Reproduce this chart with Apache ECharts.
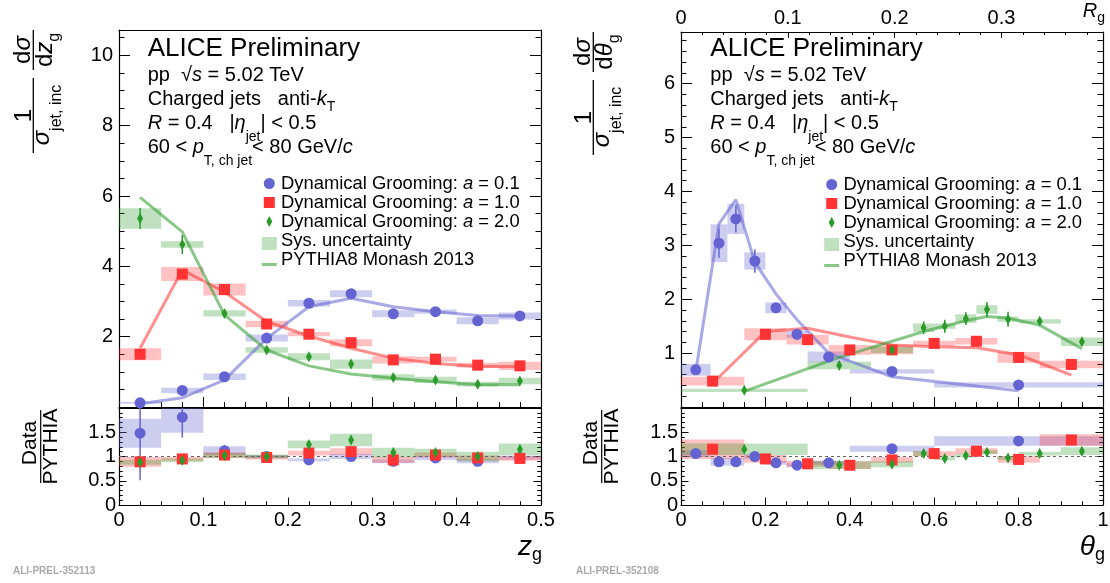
<!DOCTYPE html>
<html>
<head>
<meta charset="utf-8">
<script src="https://cdn.jsdelivr.net/npm/echarts@6/dist/echarts.min.js"></script>
<style>
  html, body { margin: 0; padding: 0; background: #fff; }
  #chart { width: 1110px; height: 583px; }
</style>
</head>
<body>
<div id="chart"></div>
<script>
// ---- z_g panel (left) ----
const zgEdges = [0, 0.05, 0.1, 0.15, 0.2, 0.25, 0.3, 0.35, 0.4, 0.45, 0.5];

const zgA01 = [0.12, 0.47, 0.86, 1.96, 2.95, 3.22, 2.65, 2.71, 2.45, 2.59];
const zgA01Sys = [0.03, 0.08, 0.09, 0.1, 0.09, 0.1, 0.1, 0.06, 0.1, 0.1];
const zgA01Stat = [0.05, 0.05, 0.06, 0.08, 0.12, 0.1, 0.08, 0.1, 0.08, 0.1];
const zgA10 = [1.5, 3.78, 3.34, 2.36, 2.07, 1.83, 1.34, 1.36, 1.19, 1.17];
const zgA10Sys = [0.17, 0.2, 0.17, 0.09, 0.06, 0.1, 0.1, 0.07, 0.07, 0.12];
const zgA10Stat = [0.1, 0.12, 0.1, 0.06, 0.05, 0.05, 0.05, 0.05, 0.05, 0.05];
const zgA20 = [5.36, 4.62, 2.66, 1.62, 1.43, 1.22, 0.84, 0.77, 0.65, 0.74];
const zgA20Sys = [0.29, 0.09, 0.09, 0.08, 0.1, 0.13, 0.09, 0.09, 0.07, 0.09];
const zgA20Stat = [0.3, 0.27, 0.1, 0.07, 0.07, 0.07, 0.06, 0.06, 0.06, 0.06];

const zgPy01 = [0.09, 0.26, 0.77, 1.95, 2.85, 3.09, 2.85, 2.71, 2.6, 2.59];
const zgPy10 = [1.67, 3.9, 3.27, 2.43, 2.02, 1.67, 1.39, 1.24, 1.15, 1.15];
const zgPy20 = [5.96, 4.98, 2.62, 1.62, 1.17, 0.94, 0.82, 0.72, 0.63, 0.63];

const zgR01 = [1.48, 1.81, 1.12, 1.0, 0.93, 1.0, 0.9, 0.97, 0.9, 0.98];
const zgR01Sys = [0.3, 0.32, 0.09, 0.03, 0.03, 0.05, 0.04, 0.04, 0.04, 0.04];
const zgR01Stat = [0.97, 0.42, 0.12, 0.05, 0.05, 0.05, 0.04, 0.05, 0.04, 0.05];
const zgR10 = [0.89, 0.95, 1.03, 0.98, 1.07, 1.1, 0.93, 1.03, 0.97, 0.96];
const zgR10Sys = [0.1, 0.04, 0.06, 0.04, 0.05, 0.07, 0.06, 0.05, 0.05, 0.05];
const zgR10Stat = [0.05, 0.06, 0.05, 0.04, 0.04, 0.04, 0.04, 0.04, 0.04, 0.04];
const zgR20 = [0.88, 0.92, 1.02, 1.0, 1.25, 1.34, 1.08, 1.08, 1.0, 1.15];
const zgR20Sys = [0.05, 0.04, 0.05, 0.04, 0.08, 0.13, 0.1, 0.08, 0.1, 0.12];
const zgR20Stat = [0.05, 0.05, 0.05, 0.05, 0.07, 0.07, 0.07, 0.07, 0.07, 0.07];

// ---- theta_g panel (right) ----
const thEdges01 = [0, 0.07, 0.11, 0.15, 0.2, 0.25, 0.3, 0.4, 0.6, 1.0];
const thEdges10 = [0, 0.15, 0.25, 0.35, 0.45, 0.55, 0.65, 0.75, 0.85, 1.0];
const thEdges20 = [0, 0.3, 0.45, 0.55, 0.6, 0.65, 0.7, 0.75, 0.8, 0.9, 1.0];

const thA01 = [0.69, 3.04, 3.49, 2.71, 1.84, 1.35, 0.93, 0.66, 0.41];
const thA01Sys = [0.11, 0.35, 0.28, 0.16, 0.1, 0.07, 0.1, 0.04, 0.05];
const thA01Stat = [0.05, 0.27, 0.25, 0.22, 0.08, 0.1, 0.06, 0.04, 0.03];
const thA10 = [0.48, 1.35, 1.25, 1.06, 1.06, 1.18, 1.22, 0.92, 0.79];
const thA10Sys = [0.08, 0.11, 0.09, 0.09, 0.08, 0.05, 0.06, 0.1, 0.07];
const thA10Stat = [0.04, 0.05, 0.05, 0.04, 0.04, 0.04, 0.04, 0.04, 0.04];
const thA20 = [0.31, 0.77, 1.06, 1.47, 1.5, 1.64, 1.81, 1.63, 1.59, 1.21];
const thA20Sys = [0.03, 0.07, 0.06, 0.08, 0.05, 0.08, 0.08, 0.05, 0.04, 0.08];
const thA20Stat = [0.04, 0.07, 0.08, 0.12, 0.12, 0.12, 0.14, 0.14, 0.07, 0.08];

const thPy01 = [0.66, 3.4, 3.85, 2.69, 2.1, 1.62, 1.0, 0.56, 0.3];
const thPy10 = [0.44, 1.4, 1.46, 1.3, 1.15, 1.12, 1.1, 0.97, 0.59];
const thPy20 = [0.29, 0.92, 1.22, 1.4, 1.5, 1.6, 1.68, 1.65, 1.52, 1.08];

const thR01 = [1.06, 0.89, 0.89, 1.0, 0.87, 0.82, 0.87, 1.16, 1.32];
const thR01Sys = [0.07, 0.08, 0.08, 0.05, 0.04, 0.04, 0.04, 0.06, 0.1];
const thR01Stat = [0.04, 0.08, 0.07, 0.08, 0.04, 0.06, 0.05, 0.04, 0.04];
const thR10 = [1.15, 0.95, 0.85, 0.82, 0.93, 1.06, 1.11, 0.94, 1.34];
const thR10Sys = [0.2, 0.08, 0.06, 0.08, 0.06, 0.05, 0.06, 0.07, 0.12];
const thR10Stat = [0.04, 0.04, 0.04, 0.04, 0.04, 0.04, 0.04, 0.04, 0.05];
const thR20 = [1.15, 0.82, 0.84, 1.06, 0.96, 1.02, 1.09, 0.97, 1.06, 1.11];
const thR20Sys = [0.12, 0.08, 0.06, 0.05, 0.04, 0.04, 0.04, 0.04, 0.04, 0.08];
const thR20Stat = [0.05, 0.06, 0.07, 0.09, 0.08, 0.08, 0.08, 0.08, 0.05, 0.06];

const ratioRef = 1;
const legendLabels = ['Dynamical Grooming: {i|a} = 0.1', 'Dynamical Grooming: {i|a} = 1.0',
  'Dynamical Grooming: {i|a} = 2.0', 'Sys. uncertainty', 'PYTHIA8 Monash 2013'];

// ---- styles ----
const FONT = '"Liberation Sans", Arial, Helvetica, sans-serif';
const ST = {
  a01: { color: '#6363d1', box: 'rgba(99,99,209,0.32)', line: 'rgba(99,99,209,0.55)', symbol: 'circle', size: 11 },
  a10: { color: '#ff3333', box: 'rgba(255,51,51,0.3)', line: 'rgba(255,51,51,0.55)', symbol: 'rect', size: 11 },
  a20: { color: '#2a9a2a', box: 'rgba(42,154,42,0.3)', line: 'rgba(42,154,42,0.55)', symbol: 'diamond', size: [6, 11] }
};

const mids = e => e.slice(0, -1).map((v, i) => (v + e[i + 1]) / 2);
const pts = (xs, ys) => ys.map((y, i) => [xs[i], y]);
const binBoxes = (e, v, h) => v.map((y, i) => [e[i], e[i + 1], y - h[i], y + h[i]]);
const bars = (xs, v, h) => v.map((y, i) => [xs[i], y - h[i], y + h[i]]);

function boxSeries(xi, yi, data, fill) {
  return {
    type: 'custom', xAxisIndex: xi, yAxisIndex: yi, data, silent: true, z: 1,
    encode: { x: [0, 1], y: [2, 3] },
    renderItem(params, api) {
      const a = api.coord([api.value(0), api.value(3)]);
      const b = api.coord([api.value(1), api.value(2)]);
      const cs = params.coordSys;
      const shape = echarts.graphic.clipRectByRect(
        { x: a[0], y: a[1], width: b[0] - a[0], height: b[1] - a[1] },
        { x: cs.x, y: cs.y, width: cs.width, height: cs.height });
      return shape && { type: 'rect', shape, style: { fill } };
    }
  };
}

function errSeries(xi, yi, data, stroke) {
  return {
    type: 'custom', xAxisIndex: xi, yAxisIndex: yi, data, silent: true, z: 3,
    encode: { x: 0, y: [1, 2] },
    renderItem(params, api) {
      const a = api.coord([api.value(0), api.value(1)]);
      const b = api.coord([api.value(0), api.value(2)]);
      const cs = params.coordSys;
      const clamp = v => Math.min(Math.max(v, cs.y), cs.y + cs.height);
      return { type: 'line', shape: { x1: a[0], y1: clamp(a[1]), x2: a[0], y2: clamp(b[1]) },
        style: { stroke, lineWidth: 1.5 } };
    }
  };
}

function lineSeries(xi, yi, data, color, z, dashed) {
  return {
    type: 'line', xAxisIndex: xi, yAxisIndex: yi, data, symbol: 'none', silent: true, z: z,
    lineStyle: dashed ? { color: '#666', width: 1, type: [3, 3] } : { color, width: 3 }
  };
}

function markSeries(xi, yi, data, st) {
  return {
    type: 'scatter', xAxisIndex: xi, yAxisIndex: yi, data, silent: true, z: 4,
    symbol: st.symbol, symbolSize: st.size, itemStyle: { color: st.color, opacity: 1 }
  };
}

function panel(xi, yi, sets, withModel) {
  const s = [];
  sets.forEach(d => s.push(boxSeries(xi, yi, binBoxes(d.edges, d.vals, d.sys), d.st.box)));
  if (withModel) sets.forEach(d => s.push(lineSeries(xi, yi, pts(mids(d.edges), d.model), d.st.line, 2)));
  sets.forEach(d => s.push(errSeries(xi, yi, bars(mids(d.edges), d.vals, d.stat), d.st.color)));
  sets.forEach(d => s.push(markSeries(xi, yi, pts(mids(d.edges), d.vals), d.st)));
  return s;
}

const fmt = (step, lo, hi) => v => {
  const k = v / step;
  if (Math.abs(k - Math.round(k)) > 1e-6 || v < lo || v > hi) return '';
  return String(Math.round(v * 1000) / 1000);
};

function axis(gridIndex, position, min, max, interval, minorSplit, tickLen, label) {
  return {
    type: 'value', gridIndex, position, min, max, interval,
    axisLine: { show: true, onZero: false, lineStyle: { color: '#000', width: 1.2 } },
    splitLine: { show: false },
    axisTick: { show: tickLen > 0, inside: true, length: tickLen, lineStyle: { color: '#000', width: 1 } },
    minorTick: { show: tickLen > 0, splitNumber: minorSplit, length: tickLen / 2, lineStyle: { color: '#000', width: 1 } },
    axisLabel: label ? Object.assign({ show: true, color: '#000', fontFamily: FONT, fontSize: 20 }, label) : { show: false }
  };
}

// ---- text helpers ----
const f = (size, extra) => Object.assign({ fontSize: size, fontFamily: FONT, fill: '#000' }, extra || {});
function sub(mainFs, mainLH, subFs, d) {
  const p = mainLH / 2 + 0.3465 * mainFs + d - 0.8465 * subFs;
  return { fontSize: subFs, fontFamily: FONT, fill: '#000', verticalAlign: 'top', lineHeight: 1, padding: [p, 0, 0, 0] };
}
function txt(x, y, text, fs, lh, rich, align, extra) {
  return {
    type: 'text', x, y, z: 10, silent: true,
    style: Object.assign({ text, fontSize: fs, fontFamily: FONT, fill: '#000', lineHeight: lh,
      align: align || 'left', verticalAlign: 'middle', rich: rich || {} }, extra || {})
  };
}

const headRich = { i: f(20, { fontStyle: 'italic', lineHeight: 24 }), sT: sub(20, 24, 14, 6), sJ: sub(20, 24, 14, 11.5) };
function header(x) {
  return [
    txt(x, 49, 'ALICE Preliminary', 26, 30),
    txt(x, 75.5, 'pp  \u221a{i|s} = 5.02 TeV', 20, 24, headRich),
    txt(x, 99.5, 'Charged jets   anti-{i|k}{sT|T}', 20, 24, headRich),
    txt(x, 123.5, '{i|R} = 0.4   |{i|\u03b7}{sJ|jet}| < 0.5', 20, 24, headRich),
    txt(x, 147.8, '60 < {i|p}{sJ|T, ch jet}< 80 GeV/{i|c}', 20, 24, headRich)
  ];
}

const legRich = { i: f(18.4, { fontStyle: 'italic', lineHeight: 22 }) };
function legend(mx, y0) {
  const dy = 19, g = [];
  g.push({ type: 'circle', z: 10, silent: true, shape: { cx: mx, cy: y0, r: 5.5 }, style: { fill: ST.a01.color } });
  g.push({ type: 'rect', z: 10, silent: true, shape: { x: mx - 5.5, y: y0 + dy - 5.5, width: 11, height: 11 }, style: { fill: ST.a10.color } });
  g.push({ type: 'polygon', z: 10, silent: true, shape: { points: [[mx, y0 + 2 * dy - 5.5], [mx + 3, y0 + 2 * dy], [mx, y0 + 2 * dy + 5.5], [mx - 3, y0 + 2 * dy]] }, style: { fill: ST.a20.color } });
  g.push({ type: 'rect', z: 10, silent: true, shape: { x: mx - 7.5, y: y0 + 3 * dy - 3.5, width: 15, height: 13 }, style: { fill: ST.a20.box } });
  g.push({ type: 'line', z: 10, silent: true, shape: { x1: mx - 7.5, y1: y0 + 4 * dy + 5, x2: mx + 7.5, y2: y0 + 4 * dy + 5 }, style: { stroke: ST.a20.line, lineWidth: 3 } });
  legendLabels.forEach((t, i) => g.push(txt(mx + 11.7, y0 + i * dy, t, 18.4, 22, legRich)));
  return g;
}

function yTitle(x, y, den2) {
  const R = { g: f(24, { fontStyle: 'italic', lineHeight: 28 }), s: sub(24, 28, 16, 12), s2: sub(24, 28, 16, 7) };
  const ln = (a, b) => ({ type: 'line', shape: { x1: a, y1: 0, x2: b, y2: 0 }, style: { stroke: '#000', lineWidth: 1.3 } });
  return {
    type: 'group', x, y, rotation: Math.PI / 2, silent: true,
    children: [
      ln(0, 75), txt(37.5, -9, '1', 24, 28, null, 'center'),
      txt(38, 9, '{g|\u03c3}{s|jet, inc}', 24, 28, R, 'center'),
      ln(83, 123), txt(103, -10, 'd{g|\u03c3}', 24, 28, R, 'center'),
      txt(103, 12, den2, 24, 28, R, 'center')
    ]
  };
}
function ratioTitle(x, y) {
  return {
    type: 'group', x, y, rotation: Math.PI / 2, silent: true,
    children: [
      { type: 'line', shape: { x1: 0, y1: 0, x2: 73, y2: 0 }, style: { stroke: '#000', lineWidth: 1.2 } },
      txt(40, -10.5, 'Data', 21, 24, null, 'center'),
      txt(36.5, 11, 'PYTHIA', 21, 24, null, 'center')
    ]
  };
}

const axRich = { zi: f(28, { fontStyle: 'italic', lineHeight: 32 }), zs: sub(28, 32, 18, 5) };
const rgRich = { ri: f(20, { fontStyle: 'italic', lineHeight: 24 }), rs: sub(20, 24, 14, 5) };

// ---- series ----
const leftMain = [
  { edges: zgEdges, vals: zgA01, sys: zgA01Sys, stat: zgA01Stat, model: zgPy01, st: ST.a01 },
  { edges: zgEdges, vals: zgA10, sys: zgA10Sys, stat: zgA10Stat, model: zgPy10, st: ST.a10 },
  { edges: zgEdges, vals: zgA20, sys: zgA20Sys, stat: zgA20Stat, model: zgPy20, st: ST.a20 }
];
const leftRatio = [
  { edges: zgEdges, vals: zgR01, sys: zgR01Sys, stat: zgR01Stat, st: ST.a01 },
  { edges: zgEdges, vals: zgR10, sys: zgR10Sys, stat: zgR10Stat, st: ST.a10 },
  { edges: zgEdges, vals: zgR20, sys: zgR20Sys, stat: zgR20Stat, st: ST.a20 }
];
const rightMain = [
  { edges: thEdges01, vals: thA01, sys: thA01Sys, stat: thA01Stat, model: thPy01, st: ST.a01 },
  { edges: thEdges10, vals: thA10, sys: thA10Sys, stat: thA10Stat, model: thPy10, st: ST.a10 },
  { edges: thEdges20, vals: thA20, sys: thA20Sys, stat: thA20Stat, model: thPy20, st: ST.a20 }
];
const rightRatio = [
  { edges: thEdges01, vals: thR01, sys: thR01Sys, stat: thR01Stat, st: ST.a01 },
  { edges: thEdges10, vals: thR10, sys: thR10Sys, stat: thR10Stat, st: ST.a10 },
  { edges: thEdges20, vals: thR20, sys: thR20Sys, stat: thR20Stat, st: ST.a20 }
];

const series = [].concat(
  panel(0, 0, leftMain, true),
  [lineSeries(2, 2, [[0, ratioRef], [0.5, ratioRef]], null, 1, true)],
  panel(2, 2, leftRatio, false),
  panel(4, 4, rightMain, true),
  [lineSeries(6, 6, [[0, ratioRef], [1, ratioRef]], null, 1, true)],
  panel(6, 6, rightRatio, false)
);

const option = {
  animation: false,
  backgroundColor: '#fff',
  grid: [
    { left: 119, top: 30, width: 422, height: 377, outerBoundsMode: 'none' },
    { left: 119, top: 408, width: 422, height: 97, outerBoundsMode: 'none' },
    { left: 681, top: 32, width: 422, height: 375, outerBoundsMode: 'none' },
    { left: 681, top: 408, width: 422, height: 97, outerBoundsMode: 'none' }
  ],
  xAxis: [
    axis(0, 'bottom', 0, 0.5, 0.1, 4, 10, null),
    axis(0, 'top', 0, 0.5, 0.1, 4, 0, null),
    axis(1, 'bottom', 0, 0.5, 0.1, 4, 7.5, { margin: 5, formatter: fmt(0.1, 0, 0.5) }),
    axis(1, 'top', 0, 0.5, 0.1, 4, 0, null),
    axis(2, 'bottom', 0, 1, 0.2, 4, 10, null),
    axis(2, 'top', 0, 0.395, 0.1, 5, 6, { margin: 4, formatter: fmt(0.1, 0, 0.35) }),
    axis(3, 'bottom', 0, 1, 0.2, 4, 7.5, { margin: 5, formatter: fmt(0.2, 0, 1) }),
    axis(3, 'top', 0, 1, 0.2, 4, 0, null)
  ],
  yAxis: [
    axis(0, 'left', 0, 10.72, 2, 4, 11, { margin: 6, formatter: fmt(2, 1, 10) }),
    axis(0, 'right', 0, 10.72, 2, 4, 11, null),
    axis(1, 'left', 0, 2, 0.5, 5, 7.5, { margin: 3, formatter: fmt(0.5, 0, 1.6) }),
    axis(1, 'right', 0, 2, 0.5, 5, 7.5, null),
    axis(2, 'left', 0, 6.96, 1, 5, 11, { margin: 6, formatter: fmt(1, 0.5, 6) }),
    axis(2, 'right', 0, 6.96, 1, 5, 11, null),
    axis(3, 'left', 0, 2, 0.5, 5, 7.5, { margin: 3, formatter: fmt(0.5, 0, 1.6) }),
    axis(3, 'right', 0, 2, 0.5, 5, 7.5, null)
  ],
  graphic: [].concat(
    header(147.7), header(710.3),
    legend(269.3, 183.5), legend(831.7, 184.5),
    [
      yTitle(33.3, 153, 'd{g|z}{s2|g}'),
      yTitle(593.3, 155, 'd{g|\u03b8}{s2|g}'),
      ratioTitle(40.7, 483),
      ratioTitle(601.7, 483),
      txt(542, 547, '{zi|z}{zs|g}', 28, 32, axRich, 'right'),
      txt(1105, 547, '{zi|\u03b8}{zs|g}', 28, 32, axRich, 'right'),
      txt(1105, 11.5, '{ri|R}{rs|g}', 20, 24, rgRich, 'right'),
      txt(13, 571, 'ALI-PREL-352113', 10, 12, null, 'left', { fontWeight: 'bold', fill: '#aaaaaa' }),
      txt(576, 571, 'ALI-PREL-352108', 10, 12, null, 'left', { fontWeight: 'bold', fill: '#aaaaaa' })
    ]
  ),
  series
};

const chart = echarts.init(document.getElementById('chart'), null, { renderer: 'canvas' });
chart.setOption(option);
</script>
</body>
</html>
